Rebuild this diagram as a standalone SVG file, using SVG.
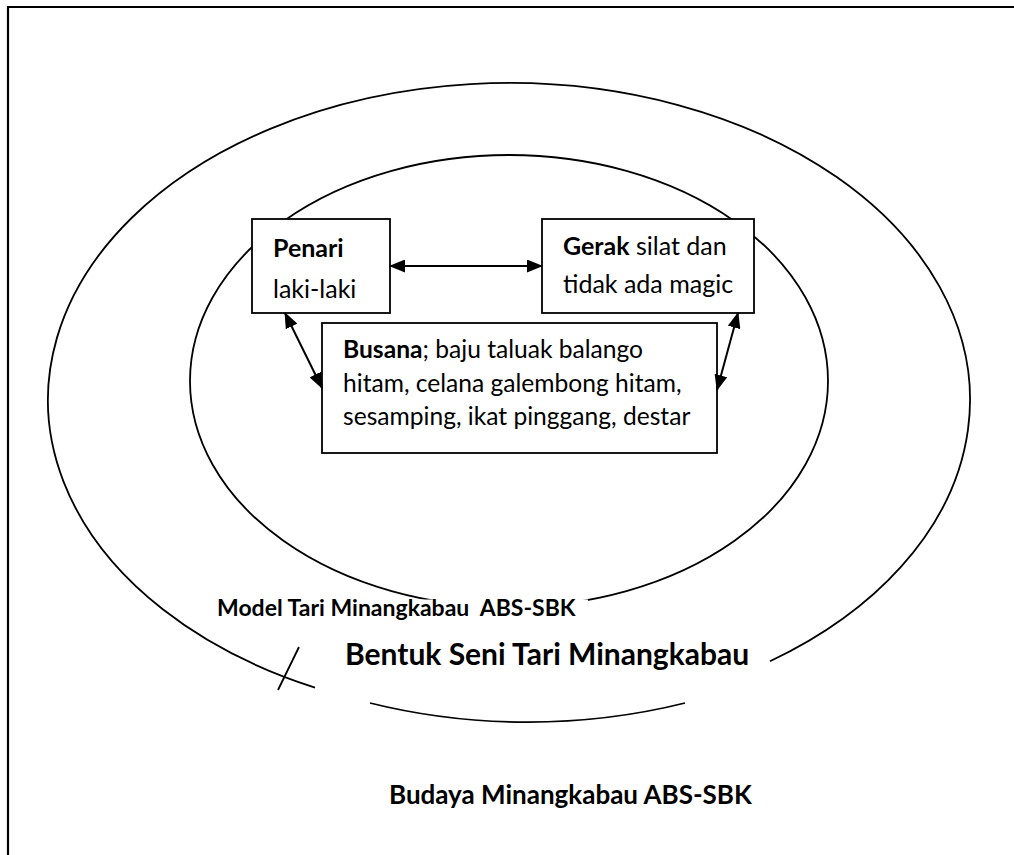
<svg xmlns="http://www.w3.org/2000/svg" width="1014" height="855" viewBox="0 0 1014 855">
<style>
.ln{fill:none;stroke:#000;stroke-width:1.8}
.box{fill:#fff;stroke:#000;stroke-width:1.8}
.t{font-family:Lato,"Liberation Sans",sans-serif;fill:#000}
.r{font-size:25px}
.s{font-size:24.6px}
.b{font-weight:bold}
.con{fill:none;stroke:#000;stroke-width:2}
</style>
<defs>
<marker id="ah" markerWidth="16" markerHeight="13" refX="15" refY="6.5" orient="auto-start-reverse" markerUnits="userSpaceOnUse">
<path d="M0,0 L16,6.5 L0,13 Z" fill="#000"/>
</marker>
</defs>
<rect width="1014" height="855" fill="#fff"/>
<g id="frame">
<line x1="7" y1="7" x2="1014" y2="7" stroke="#000" stroke-width="2"/>
<line x1="8" y1="6" x2="8" y2="855" stroke="#000" stroke-width="2.2"/>
</g>
<g id="outer">
<path class="ln" d="M770,661.3 A461,317 0 1 0 315,687.56"/>
<path class="ln" d="M370,703 A461,317 0 0 0 685,703"/>
<line class="ln" x1="299" y1="647" x2="278" y2="690"/>
<text class="t b" x="345" y="665" font-size="30">Bentuk Seni Tari Minangkabau</text>
</g>
<g id="budaya">
<text class="t b" x="389" y="804" font-size="26">Budaya Minangkabau ABS-SBK</text>
</g>
<g id="inner">
<ellipse class="ln" cx="509" cy="381" rx="319" ry="226"/>
<rect x="210" y="599.5" width="378" height="26" fill="#fff"/>
<text class="t b" x="217" y="616" font-size="23" xml:space="preserve">Model Tari Minangkabau  ABS-SBK</text>
</g>
<g id="penari">
<rect class="box" x="252" y="219" width="138" height="94"/>
<text class="t r b" x="273" y="257">Penari</text>
<text class="t r" x="273" y="298" font-size="25.5">laki-laki</text>
</g>
<g id="gerak">
<rect class="box" x="542" y="219" width="212" height="94"/>
<text class="t r" x="563" y="255"><tspan class="b">Gerak</tspan> silat dan</text>
<text class="t r" x="563" y="293">tidak ada magic</text>
</g>
<g id="busana">
<rect class="box" x="322" y="323" width="395" height="130"/>
<text class="t s" x="343" y="358"><tspan class="b">Busana</tspan>; baju taluak balango</text>
<text class="t s" x="343" y="391.5">hitam, celana galembong hitam,</text>
<text class="t s" x="343" y="425">sesamping, ikat pinggang, destar</text>
</g>
<g id="connectors">
<line class="con" x1="390" y1="266" x2="542" y2="266" marker-start="url(#ah)" marker-end="url(#ah)"/>
<line class="con" x1="285" y1="313" x2="322" y2="388" marker-start="url(#ah)" marker-end="url(#ah)"/>
<line class="con" x1="738" y1="313" x2="717" y2="390" marker-start="url(#ah)" marker-end="url(#ah)"/>
</g>
</svg>
